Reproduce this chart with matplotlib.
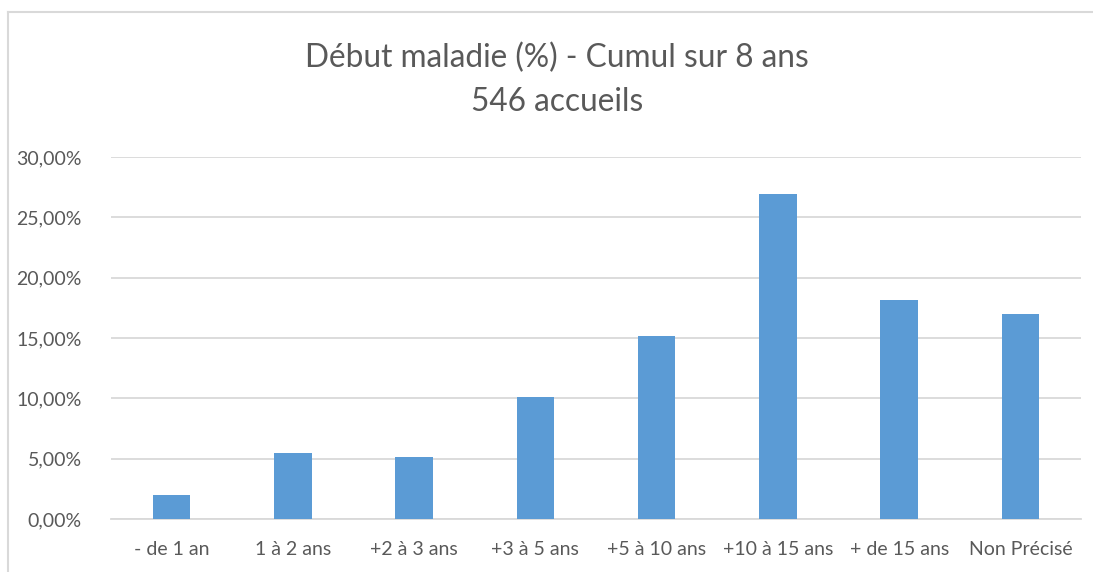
import matplotlib
matplotlib.use("Agg")
import matplotlib.pyplot as plt
from matplotlib.ticker import FuncFormatter, MultipleLocator

categories = ["- de 1 an", "1 à 2 ans", "+2 à 3 ans", "+3 à 5 ans", "+5 à 10 ans",
              "+10 à 15 ans", "+ de 15 ans", "Non Précisé"]
values = [2.01, 5.49, 5.13, 10.07, 15.20, 26.92, 18.13, 17.03]
title_line1 = "Début maladie (%) - Cumul sur 8 ans"
title_line2 = "546 accueils"

plt.rcParams['font.family'] = ['Lato', 'DejaVu Sans']
W, H = 1093, 572
fig = plt.figure(figsize=(W / 100, H / 100), dpi=100)
fig.patch.set_facecolor("white")

# outer chart border (left and top visible)
fig.add_artist(plt.Line2D([8 / W, 8 / W], [0, 1 - 12 / H], color="#d9d9d9", lw=1.5,
                          transform=fig.transFigure))
fig.add_artist(plt.Line2D([8 / W, 1], [1 - 12 / H, 1 - 12 / H], color="#d9d9d9", lw=1.5,
                          transform=fig.transFigure))

ax = fig.add_axes([111 / W, 1 - 519 / H, (1081 - 111) / W, (519 - 157) / H])
x = list(range(len(categories)))
ax.bar(x, values, width=0.31, color="#5b9bd5", zorder=3)
ax.set_xlim(-0.5, len(categories) - 0.5)
ax.set_ylim(0, 30)
ax.yaxis.set_major_locator(MultipleLocator(5))
ax.yaxis.set_major_formatter(FuncFormatter(lambda v, p: f"{v:.2f}".replace(".", ",") + "%"))
ax.set_xticks(x)
ax.set_xticklabels(categories)
ax.grid(axis="y", color="#d9d9d9", lw=1.3, zorder=0)
for s in ["top", "right", "left"]:
    ax.spines[s].set_visible(False)
ax.spines["bottom"].set_color("#d9d9d9")
ax.spines["bottom"].set_linewidth(1.3)
ax.tick_params(axis="both", length=0, labelsize=14, colors="#595959")
ax.tick_params(axis="y", pad=21)
ax.tick_params(axis="x", pad=16)

cx = 557 / W
fig.text(cx, 1 - 58 / H, title_line1, ha="center", va="center",
         fontsize=22.8, color="#595959")
fig.text(cx, 1 - 102 / H, title_line2, ha="center", va="center",
         fontsize=22.8, color="#595959")

fig.savefig("out.png", dpi=100)
